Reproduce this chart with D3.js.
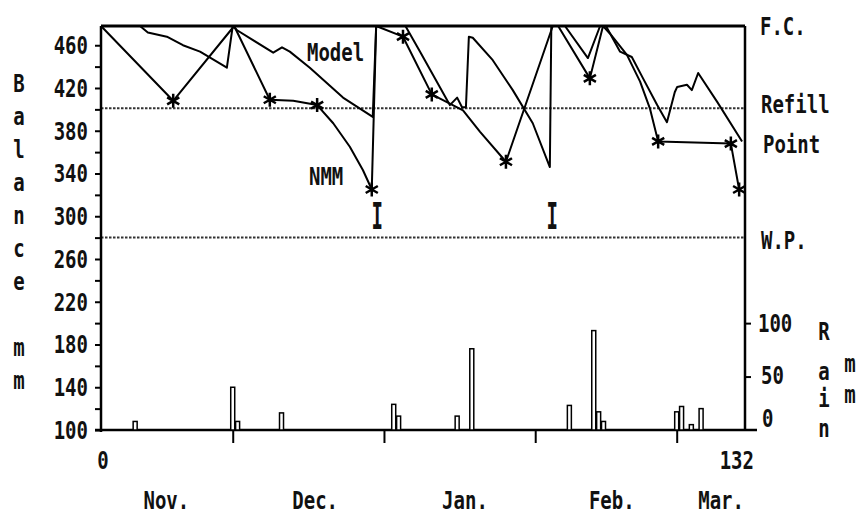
<!DOCTYPE html>
<html>
<head>
<meta charset="utf-8">
<script src="https://cdn.jsdelivr.net/npm/d3@7"></script>
<style>
body{margin:0;background:#fff}
svg{display:block}
text{font-family:"DejaVu Sans Mono",monospace;font-weight:bold;font-size:19px;fill:#111}
</style>
</head>
<body>
<svg width="857" height="517"></svg>
<script>
// day 0 = start of November, balance in mm
var modelDays = [0, 8, 9.6, 13.5, 16.8, 20.3, 25.8, 27, 27.9, 35.3, 37.1, 38.7, 42.8, 49.6, 55.7, 56.4,
                 62.4, 65.4, 71.5, 73.0, 74.0, 74.8, 75.4, 76.2, 80.3, 84.4, 88.5, 92.0, 92.3, 95.1,
                 99.8, 102.3, 103.5, 106.4, 108.8, 111.1, 114.0, 116.0, 117.6, 118.1, 120.1, 121.1,
                 122.4, 126.3, 131.4]
var modelValues = [478, 478, 472, 468, 460, 454, 439, 478, 474, 453, 458, 454, 439, 411, 393, 478,
                   478, 454, 404, 411, 402, 402, 468, 467, 446, 418, 387, 346, 478, 478,
                   448, 478, 478, 454, 449, 429, 404, 388, 416, 421, 423, 418,
                   434, 407, 370]

var nmmDays = [0, 14.8, 27.3, 34.6, 39.4, 44.3, 47.6, 51.0, 53.7, 55.5, 56.4, 61.9, 67.8, 74.2,
               77.7, 83.0, 92.6, 93.7, 100.2, 102.9, 104.3, 107.8, 110.5, 112.5, 114.2, 129.1, 130.8]
var nmmValues = [478, 408, 478, 409, 408, 404, 387, 365, 343, 325, 478, 468, 414, 399,
                 379, 351, 478, 478, 429, 478, 471, 451, 426, 401, 370, 368, 325]
// 1 = measured (star)
var nmmMeasured = [0, 1, 0, 1, 0, 1, 0, 0, 0, 1, 0, 1, 1, 0,
                   0, 1, 0, 0, 1, 0, 0, 0, 0, 0, 1, 1, 1]

var rainDays = [7, 27, 28, 37, 60, 61, 73, 76, 96, 101, 102, 103, 118, 119, 121, 123]
var rainValues = [8, 40, 8, 16, 24, 13, 13, 76, 23, 93, 17, 8, 17, 22, 5, 20]

var irrigationDays = [56.4, 92.3]

var levelValues = [478, 401, 280]   // F.C., refill point, W.P.
var balanceTicks = d3.range(100, 461, 20)
var balanceLabels = d3.range(100, 461, 40)
var rainTicks = [50, 100]
var monthTicks = [27, 58, 89, 118]
var monthNames = ["Nov.", "Dec.", "Jan.", "Feb.", "Mar."]
var monthLabelDays = [13.4, 43.9, 74.6, 104.7, 127.1]

var svg = d3.select("svg")

var xScale = d3.scaleLinear().domain([0, 132]).range([101, 745])
var yScale = d3.scaleLinear().domain([100, 478]).range([430, 26])
var rainScale = d3.scaleLinear().domain([0, 100]).range([430, 430 - 404 * 100 / 378])

// text stretched vertically like the old printer font
var putText = function(target, txt, x, y, anchor, sy)
{
    return target.append("text")
        .text(txt)
        .attr("text-anchor", anchor || "start")
        .attr("transform", "translate(" + x + "," + y + ") scale(1," + (sy || 1.35) + ")")
}

// reference levels
svg.append("g")
    .selectAll("line")
    .data(levelValues)
    .enter()
    .append("line")
    .attr("x1", xScale(0))
    .attr("x2", xScale(132))
    .attr("y1", function(d) { return yScale(d) })
    .attr("y2", function(d) { return yScale(d) })
    .attr("stroke", function(d, i) { return i == 0 ? "#000" : "#333" })
    .attr("stroke-width", function(d, i) { return i == 0 ? 3 : 2 })
    .attr("stroke-dasharray", function(d, i) { return i == 0 ? null : "2.5,1.5" })

// axes
var yAxis = d3.axisLeft(yScale).tickValues(balanceTicks).tickSize(6).tickFormat("")
var gy = svg.append("g")
    .attr("transform", "translate(" + xScale(0) + ",0)")
    .call(yAxis)
gy.select(".domain").remove()
gy.selectAll("line").attr("stroke-width", 2)

svg.append("line")
    .attr("x1", xScale(0)).attr("x2", xScale(0))
    .attr("y1", yScale(478)).attr("y2", yScale(100) + 2)
    .attr("stroke", "#000").attr("stroke-width", 2.5)
svg.append("line")
    .attr("x1", xScale(132)).attr("x2", xScale(132))
    .attr("y1", yScale(478)).attr("y2", yScale(100))
    .attr("stroke", "#000").attr("stroke-width", 2.5)

var rainAxis = d3.axisRight(rainScale).tickValues(rainTicks).tickSize(6).tickFormat("")
var gr = svg.append("g")
    .attr("transform", "translate(" + xScale(132) + ",0)")
    .call(rainAxis)
gr.select(".domain").remove()
gr.selectAll("line").attr("stroke-width", 2)

var xAxis = d3.axisBottom(xScale).tickValues(monthTicks).tickSize(13).tickFormat("")
var gx = svg.append("g")
    .attr("transform", "translate(0," + yScale(100) + ")")
    .call(xAxis)
gx.select(".domain").remove()
gx.selectAll("line").attr("stroke-width", 2)
svg.append("line")
    .attr("x1", xScale(0) - 6).attr("x2", xScale(132) + 12)
    .attr("y1", yScale(100)).attr("y2", yScale(100))
    .attr("stroke", "#000").attr("stroke-width", 2.5)

// rain bars
svg.append("g")
    .selectAll("rect")
    .data(rainDays)
    .enter()
    .append("rect")
    .attr("x", function(d) { return xScale(d) - 2 })
    .attr("width", 4)
    .attr("y", function(d, i) { return rainScale(rainValues[i]) })
    .attr("height", function(d, i) { return rainScale(0) - rainScale(rainValues[i]) })
    .attr("fill", "#fff")
    .attr("stroke", "#000")
    .attr("stroke-width", 1.5)

// balance lines
var lineGenerator = d3.line()
    .x(function(d) { return xScale(d[0]) })
    .y(function(d) { return yScale(d[1]) })

var modelPts = modelDays.map(function(d, i) { return [d, modelValues[i]] })
var nmmPts = nmmDays.map(function(d, i) { return [d, nmmValues[i]] })

svg.append("path")
    .datum(modelPts)
    .attr("d", lineGenerator)
    .attr("fill", "none")
    .attr("stroke", "#000")
    .attr("stroke-width", 2)
    .attr("stroke-linejoin", "round")

svg.append("path")
    .datum(nmmPts)
    .attr("d", lineGenerator)
    .attr("fill", "none")
    .attr("stroke", "#000")
    .attr("stroke-width", 2)
    .attr("stroke-linejoin", "round")

var starPath = function(r)
{
    var a = r * Math.cos(Math.PI / 6), b = r * 0.5
    return "M0," + (-r) + "V" + r +
           "M" + (-a) + "," + (-b) + "L" + a + "," + b +
           "M" + (-a) + "," + b + "L" + a + "," + (-b)
}

svg.append("g")
    .selectAll("path")
    .data(nmmPts.filter(function(d, i) { return nmmMeasured[i] == 1 }))
    .enter()
    .append("path")
    .attr("d", starPath(7))
    .attr("transform", function(d) { return "translate(" + xScale(d[0]) + "," + yScale(d[1]) + ")" })
    .attr("stroke", "#000")
    .attr("stroke-width", 2.5)

// irrigation marks
var labels = svg.append("g")
irrigationDays.forEach(function(d)
{
    putText(labels, "I", xScale(d) + 1, 229, "middle", 2.0)
})

// tick labels
balanceLabels.forEach(function(v)
{
    putText(labels, String(v), 88, yScale(v) + 9, "end")
})
putText(labels, "100", 758, rainScale(100) + 9, "start")
putText(labels, "50", 761, rainScale(50) + 7, "start")
putText(labels, "0", 762, rainScale(0) - 3, "start")

putText(labels, "0", xScale(0) + 2, 469, "middle")
putText(labels, "132", xScale(132) + 9, 469, "end")
monthNames.forEach(function(m, i)
{
    putText(labels, m, xScale(monthLabelDays[i]), 509, "middle")
})

// level names
putText(labels, "F.C.", 760, yScale(levelValues[0]) + 9, "start")
putText(labels, "Refill", 761, yScale(levelValues[1]) + 5, "start")
putText(labels, "Point", 763, yScale(levelValues[1]) + 45, "start")
putText(labels, "W.P.", 761, yScale(levelValues[2]) + 11, "start")

// series names
putText(labels, "Model", 307, 61, "start")
putText(labels, "NMM", 309, 185, "start")

// axis titles, one letter per row
"Balance mm".split("").forEach(function(c, i)
{
    if (c != " ") putText(labels, c, 19, 92 + 33 * i, "middle")
})
var rainRows = [340, 380, 407, 437]
"Rain".split("").forEach(function(c, i)
{
    putText(labels, c, 824, rainRows[i], "middle")
})
putText(labels, "m", 850, 372, "middle")
putText(labels, "m", 850, 403, "middle")
</script>
</body>
</html>
